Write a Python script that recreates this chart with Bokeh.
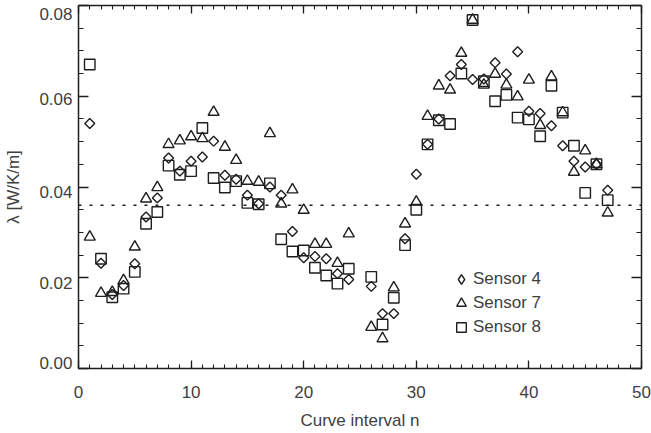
import math
from bokeh.plotting import figure
from bokeh.models import (LinearAxis, Range1d, Span, Legend, LegendItem, FixedTicker)
from bokeh.embed import file_html
from bokeh.resources import INLINE

# Curve interval index (no data at n = 25)
n = [1, 2, 3, 4, 5, 6, 7, 8, 9, 10, 11, 12, 13, 14, 15, 16, 17, 18, 19, 20, 21, 22, 23, 24,
     26, 27, 28, 29, 30, 31, 32, 33, 34, 35, 36, 37, 38, 39, 40, 41, 42, 43, 44, 45, 46, 47]

sensor4 = [0.0540, 0.0232, 0.0163, 0.0183, 0.0231, 0.0334, 0.0376, 0.0464, 0.0435, 0.0457,
           0.0466, 0.0501, 0.0426, 0.0417, 0.0382, 0.0363, 0.0400, 0.0382, 0.0302, 0.0244,
           0.0247, 0.0242, 0.0209, 0.0196,
           0.0181, 0.0121, 0.0121, 0.0286, 0.0428, 0.0494, 0.0550, 0.0645, 0.0670, 0.0637,
           0.0638, 0.0674, 0.0649, 0.0698, 0.0567, 0.0562, 0.0535, 0.0491, 0.0457, 0.0444,
           0.0450, 0.0393]

sensor7 = [0.0290, 0.0166, 0.0168, 0.0194, 0.0268, 0.0374, 0.0399, 0.0494, 0.0502, 0.0511,
           0.0507, 0.0565, 0.0488, 0.0459, 0.0413, 0.0411, 0.0518, 0.0363, 0.0394, 0.0349,
           0.0274, 0.0274, 0.0232, 0.0297,
           0.0091, 0.0066, 0.0178, 0.0319, 0.0367, 0.0556, 0.0623, 0.0614, 0.0695, 0.0768,
           0.0625, 0.0649, 0.0625, 0.0599, 0.0636, 0.0536, 0.0643, 0.0564, 0.0433, 0.0480,
           0.0450, 0.0343]

sensor8 = [0.0670, 0.0242, 0.0157, 0.0176, 0.0213, 0.0319, 0.0345, 0.0447, 0.0427, 0.0435,
           0.0530, 0.0420, 0.0399, 0.0413, 0.0365, 0.0362, 0.0408, 0.0285, 0.0258, 0.0260,
           0.0222, 0.0205, 0.0187, 0.0220,
           0.0202, 0.0097, 0.0156, 0.0272, 0.0350, 0.0494, 0.0547, 0.0539, 0.0650, 0.0768,
           0.0633, 0.0589, 0.0603, 0.0553, 0.0549, 0.0512, 0.0623, 0.0564, 0.0491, 0.0387,
           0.0450, 0.0371]

mean_level = 0.036

x_ticks = [0, 10, 20, 30, 40, 50]
x_minor = list(range(0, 51))
y_ticks = [0.00, 0.02, 0.04, 0.06, 0.08]
y_tick_labels = ["0.00", "0.02", "0.04", "0.06", "0.08"]
y_minor = [0.005 * i for i in range(17)]

series_labels = ["Sensor 4", "Sensor 7", "Sensor 8"]
x_title = "Curve interval n"
y_title = "λ [W/K/m]"

FONT = "Liberation Sans"
TXT = "#404040"
INK = "#1e1e1e"

W, H = 651, 433
BL, BR, BT, BB = 78, 10, 5, 65
FRAME_H = H - BT - BB
Y0, Y1 = 0.0, 0.08
PX_PER_UNIT = FRAME_H / (Y1 - Y0)

p = figure(width=W, height=H, output_backend="svg", toolbar_location=None,
           x_range=Range1d(0, 50), y_range=Range1d(Y0, Y1),
           min_border_left=BL, min_border_right=BR, min_border_top=BT, min_border_bottom=BB,
           x_axis_location=None, y_axis_location=None)
p.outline_line_color = None
p.grid.visible = False
p.background_fill_color = "white"


def style_axis(ax, ticker, major_in, minor_in, labels_visible):
    ax.ticker = ticker
    ax.axis_line_color = INK
    ax.axis_line_width = 1.5
    ax.major_tick_line_color = INK
    ax.major_tick_line_width = 1.3
    ax.minor_tick_line_color = INK
    ax.minor_tick_line_width = 1.1
    ax.major_tick_in = major_in
    ax.major_tick_out = 0
    ax.minor_tick_in = minor_in
    ax.minor_tick_out = 0
    ax.major_label_text_font = FONT
    if labels_visible:
        ax.major_label_text_font_size = "17px"
        ax.major_label_text_color = TXT
    else:
        ax.major_label_text_font_size = "0px"
        ax.major_label_text_color = None
        ax.major_label_standoff = 0


# bottom axis with tick labels and title
xb = LinearAxis()
style_axis(xb, FixedTicker(ticks=x_ticks, minor_ticks=x_minor), 8, 4, True)
xb.major_label_standoff = 17
xb.axis_label = x_title
xb.axis_label_text_font = FONT
xb.axis_label_text_font_size = "17px"
xb.axis_label_text_font_style = "normal"
xb.axis_label_text_color = TXT
xb.axis_label_standoff = 10
p.add_layout(xb, "below")

# top axis: ticks only
xa = LinearAxis()
style_axis(xa, FixedTicker(ticks=x_ticks, minor_ticks=x_minor), 8, 4, False)
p.add_layout(xa, "above")

# left axis: line and ticks only
yl = LinearAxis()
style_axis(yl, FixedTicker(ticks=y_ticks, minor_ticks=y_minor), 10, 5, False)
p.add_layout(yl, "left")

# left labels: tick labels sit a little below their ticks, end labels kept inside the frame
label_shift_px = [5.3, -5.5, -5.0, -2.6, -8.3]
label_pos = [round(v + s / PX_PER_UNIT, 6) for v, s in zip(y_ticks, label_shift_px)]
ylab = LinearAxis(ticker=FixedTicker(ticks=label_pos, minor_ticks=[]))
ylab.major_label_overrides = {pos: txt for pos, txt in zip(label_pos, y_tick_labels)}
ylab.axis_line_color = None
ylab.major_tick_line_color = None
ylab.minor_tick_line_color = None
ylab.major_tick_in = 0
ylab.major_tick_out = 0
ylab.minor_tick_in = 0
ylab.minor_tick_out = 0
ylab.major_label_standoff = 6
ylab.major_label_text_font = FONT
ylab.major_label_text_font_size = "17px"
ylab.major_label_text_color = TXT
ylab.axis_label = y_title
ylab.axis_label_text_font = FONT
ylab.axis_label_text_font_size = "17px"
ylab.axis_label_text_font_style = "normal"
ylab.axis_label_text_color = TXT
ylab.axis_label_standoff = 13
p.add_layout(ylab, "left")

# right axis: ticks only
yr = LinearAxis()
style_axis(yr, FixedTicker(ticks=y_ticks, minor_ticks=y_minor), 10, 5, False)
p.add_layout(yr, "right")

p.add_layout(Span(location=mean_level, dimension="width", line_color=INK,
                  line_width=1.5, line_dash="3 8"))

r4 = p.scatter(n, sensor4, marker="square", angle=math.pi / 4, size=7,
               fill_color=None, line_color=INK, line_width=1.4)
r7 = p.scatter(n, sensor7, marker="triangle", size=11,
               fill_color=None, line_color=INK, line_width=1.4)
r8 = p.scatter(n, sensor8, marker="square", size=10.5,
               fill_color=None, line_color=INK, line_width=1.4)
# legend swatch for sensor 4 (legend swatches are never rotated, so use a diamond key)
r4_key = p.scatter(n, sensor4, marker="diamond", size=10, visible=False,
                   fill_color=None, line_color=INK, line_width=1.4)

legend = Legend(items=[LegendItem(label=series_labels[0], renderers=[r4_key]),
                       LegendItem(label=series_labels[1], renderers=[r7]),
                       LegendItem(label=series_labels[2], renderers=[r8])],
                location=(371, 29), glyph_width=24, glyph_height=24, label_height=24,
                spacing=0, label_standoff=0, padding=0, margin=0,
                border_line_color=None, background_fill_alpha=0,
                inactive_fill_alpha=0,
                label_text_font=FONT, label_text_font_size="17px", label_text_color=TXT)
p.add_layout(legend)

open("out.html", "w").write(file_html(p, INLINE))
